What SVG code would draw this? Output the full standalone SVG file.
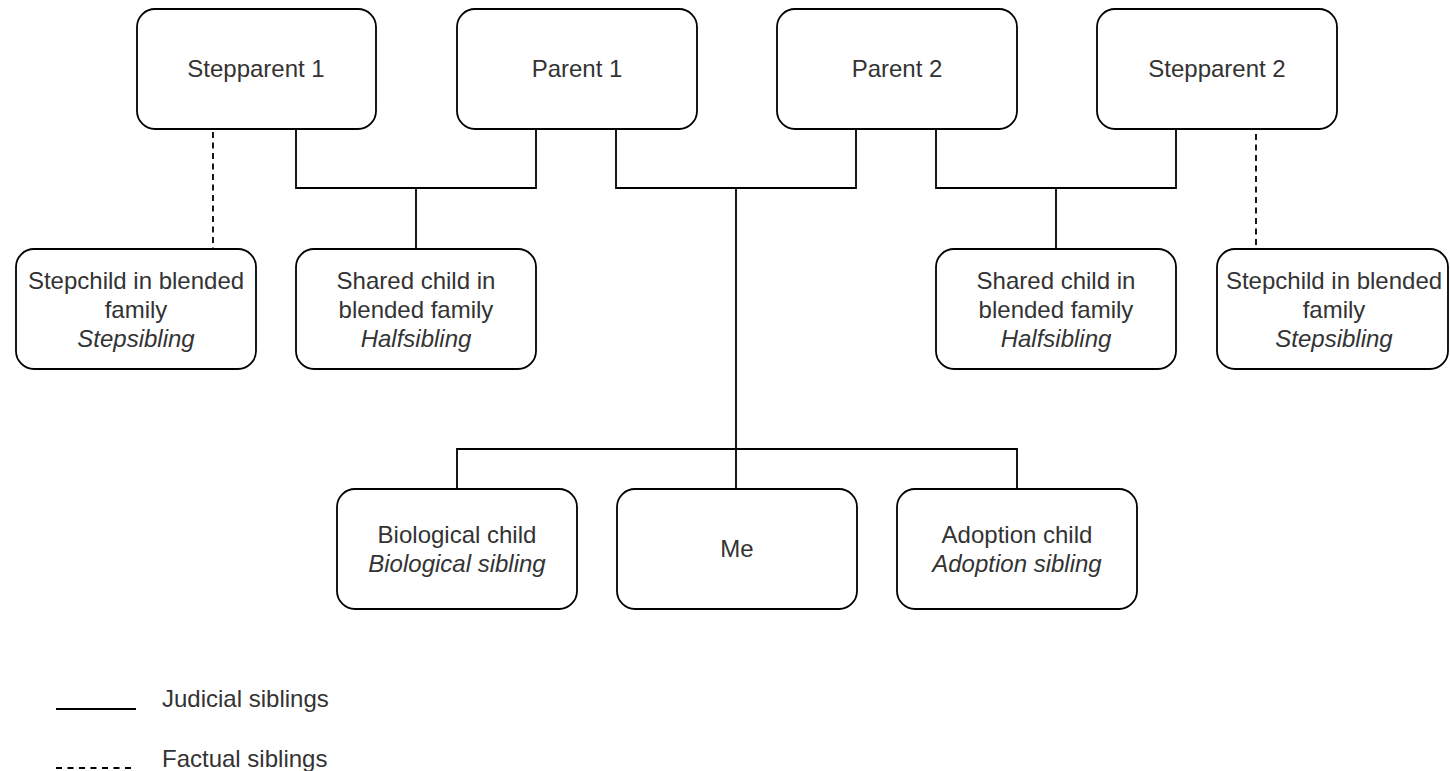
<svg xmlns="http://www.w3.org/2000/svg" width="1450" height="771" viewBox="0 0 1450 771">
<style>
.box{fill:#fff;stroke:#000;stroke-width:1.8}
.t{font-family:"Liberation Sans",Arial,sans-serif;font-size:24px;fill:#333;text-anchor:middle}
.i{font-style:italic}
.lt{font-family:"Liberation Sans",Arial,sans-serif;font-size:24px;fill:#333}
.c{fill:none;stroke:#000;stroke-width:1.8}
.d{fill:none;stroke:#000;stroke-width:1.8;stroke-dasharray:6 4.5}
</style>
<rect width="1450" height="771" fill="#fff"/>
<g id="connectors">
<path class="c" d="M296 129V188H536V129"/>
<path class="c" d="M416 188V249"/>
<path class="c" d="M616 129V188H856V129"/>
<path class="c" d="M736 188V489"/>
<path class="c" d="M936 129V188H1176V129"/>
<path class="c" d="M1056 188V249"/>
<path class="c" d="M457 489V449H1017V489"/>
<path class="d" d="M213 132V248"/>
<path class="d" d="M1256 134V248"/>
</g>
<g id="stepparent1"><rect class="box" x="137" y="9" width="239" height="120" rx="18"/><text class="t" x="256" y="77">Stepparent 1</text></g>
<g id="parent1"><rect class="box" x="457" y="9" width="240" height="120" rx="18"/><text class="t" x="577" y="77">Parent 1</text></g>
<g id="parent2"><rect class="box" x="777" y="9" width="240" height="120" rx="18"/><text class="t" x="897" y="77">Parent 2</text></g>
<g id="stepparent2"><rect class="box" x="1097" y="9" width="240" height="120" rx="18"/><text class="t" x="1217" y="77">Stepparent 2</text></g>
<g id="stepchild1"><rect class="box" x="16" y="249" width="240" height="120" rx="18"/><text class="t" x="136" y="289">Stepchild in blended</text><text class="t" x="136" y="318">family</text><text class="t i" x="136" y="347">Stepsibling</text></g>
<g id="shared1"><rect class="box" x="296" y="249" width="240" height="120" rx="18"/><text class="t" x="416" y="289">Shared child in</text><text class="t" x="416" y="318">blended family</text><text class="t i" x="416" y="347">Halfsibling</text></g>
<g id="shared2"><rect class="box" x="936" y="249" width="240" height="120" rx="18"/><text class="t" x="1056" y="289">Shared child in</text><text class="t" x="1056" y="318">blended family</text><text class="t i" x="1056" y="347">Halfsibling</text></g>
<g id="stepchild2"><rect class="box" x="1217" y="249" width="231" height="120" rx="18"/><text class="t" x="1334" y="289">Stepchild in blended</text><text class="t" x="1334" y="318">family</text><text class="t i" x="1334" y="347">Stepsibling</text></g>
<g id="biological"><rect class="box" x="337" y="489" width="240" height="120" rx="18"/><text class="t" x="457" y="543">Biological child</text><text class="t i" x="457" y="572">Biological sibling</text></g>
<g id="me"><rect class="box" x="617" y="489" width="240" height="120" rx="18"/><text class="t" x="737" y="557">Me</text></g>
<g id="adoption"><rect class="box" x="897" y="489" width="240" height="120" rx="18"/><text class="t" x="1017" y="543">Adoption child</text><text class="t i" x="1017" y="572">Adoption sibling</text></g>
<g id="legend">
<path class="c" d="M56 709H136"/>
<text class="lt" x="162" y="707">Judicial siblings</text>
<path class="d" d="M56 768H136" style="stroke-dasharray:6 5.5"/>
<text class="lt" x="162" y="767">Factual siblings</text>
</g>
</svg>
